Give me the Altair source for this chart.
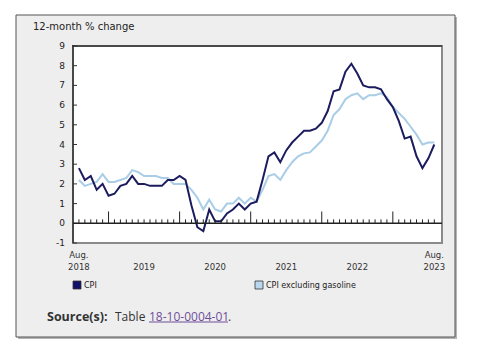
import altair as alt
import pandas as pd

# ---------------- data ----------------
months = pd.date_range("2018-08-01", "2023-08-01", freq="MS")

cpi = [2.8, 2.2, 2.4, 1.7, 2.0,
       1.4, 1.5, 1.9, 2.0, 2.4, 2.0, 2.0, 1.9, 1.9, 1.9, 2.2, 2.2,
       2.4, 2.2, 0.9, -0.2, -0.4, 0.7, 0.1, 0.1, 0.5, 0.7, 1.0, 0.7,
       1.0, 1.1, 2.2, 3.4, 3.6, 3.1, 3.7, 4.1, 4.4, 4.7, 4.7, 4.8,
       5.1, 5.7, 6.7, 6.8, 7.7, 8.1, 7.6, 7.0, 6.9, 6.9, 6.8, 6.3,
       5.9, 5.2, 4.3, 4.4, 3.4, 2.8, 3.3, 4.0]

cpi_ex_gas = [2.2, 1.9, 2.0, 2.1, 2.5,
              2.1, 2.1, 2.2, 2.3, 2.7, 2.6, 2.4, 2.4, 2.4, 2.3, 2.3, 2.0,
              2.0, 2.0, 1.7, 1.3, 0.7, 1.2, 0.7, 0.6, 1.0, 1.0, 1.3, 1.0,
              1.3, 1.1, 1.7, 2.4, 2.5, 2.2, 2.7, 3.1, 3.4, 3.55, 3.6, 3.9,
              4.2, 4.7, 5.5, 5.8, 6.3, 6.5, 6.6, 6.3, 6.5, 6.5, 6.6, 6.4,
              5.9, 5.6, 5.3, 4.9, 4.5, 4.0, 4.1, 4.1]

series_names = ["CPI", "CPI excluding gasoline"]
series_colors = ["#1b1b5e", "#a9cde6"]
swatch_colors = ["#10106a", "#b9d8f0"]
y_ticks = [-1, 0, 1, 2, 3, 4, 5, 6, 7, 8, 9]
year_labels = ["2019", "2020", "2021", "2022"]
title_text = "12-month % change"
source_label = "Source(s):"
source_table = "Table "
source_link = "18-10-0004-01"

# ---------------- tables ----------------
n = len(months)
idx = list(range(n))
df = pd.DataFrame({
    "i": idx * 2,
    "value": cpi + cpi_ex_gas,
    "series": [series_names[0]] * n + [series_names[1]] * n,
})

tick_df = pd.DataFrame({
    "i": idx,
    "y0": [0] * n,
    "top": [0.6 if m.month == 1 else 0.2 for m in months],
})

jan_idx = [i for i, m in enumerate(months) if m.month == 1]
year_df = pd.DataFrame({
    "i": [j + 6 for j in jan_idx[:len(year_labels)]],
    "label": year_labels,
})
year_df = pd.concat([year_df, pd.DataFrame({
    "i": [0, n - 1],
    "label": [str(months[0].year), str(months[-1].year)],
})])
aug_df = pd.DataFrame({"i": [0, n - 1], "label": ["Aug.", "Aug."]})
ytick_df = pd.DataFrame({"y": y_ticks, "label": [str(v) for v in y_ticks]})
one = pd.DataFrame({"k": [0]})

W, H = 369, 197
xscale = alt.Scale(domain=[-1, 61.3], nice=False, zero=False)
yscale = alt.Scale(domain=[-1, 9], nice=False, zero=False)
FONT = "DejaVu Sans"
SFONT = "Open Sans"

layers = []

# outer panel (shadow + panel)
layers.append(alt.Chart(one).mark_rect(fill="#b5b5b5").encode(
    x=alt.value(-55), x2=alt.value(384), y=alt.value(-29), y2=alt.value(293)))
layers.append(alt.Chart(one).mark_rect(fill="#eeeeee", stroke="#555555", strokeWidth=1).encode(
    x=alt.value(-57), x2=alt.value(382), y=alt.value(-31), y2=alt.value(291)))

# plot area
layers.append(alt.Chart(one).mark_rect(fill="white", stroke="#8a8a8a", strokeWidth=2).encode(
    x=alt.value(0), x2=alt.value(W), y=alt.value(0), y2=alt.value(H)))
layers.append(alt.Chart(one).mark_rule(color="#333333", strokeWidth=1.5).encode(
    x=alt.value(0), y=alt.value(-1), y2=alt.value(H)))
layers.append(alt.Chart(one).mark_rule(color="#333333", strokeWidth=1.5).encode(
    x=alt.value(-1), x2=alt.value(W), y=alt.value(0)))

# y ticks (inside) and labels
layers.append(alt.Chart(ytick_df).mark_rule(color="#333333", strokeWidth=1).encode(
    y=alt.Y("y:Q", scale=yscale, axis=None),
    x=alt.value(0), x2=alt.value(4)))
layers.append(alt.Chart(ytick_df).mark_text(font=FONT, fontSize=9, color="#222222", align="right",
                                            baseline="middle").encode(
    y=alt.Y("y:Q", scale=yscale, axis=None),
    x=alt.value(-8), text="label:N"))

# lines
for name, color in [(series_names[1], series_colors[1]), (series_names[0], series_colors[0])]:
    layers.append(alt.Chart(df).transform_filter(alt.datum.series == name).mark_line(
        color=color, strokeWidth=2, strokeJoin="miter").encode(
        x=alt.X("i:Q", scale=xscale, axis=None),
        y=alt.Y("value:Q", scale=yscale, axis=None)))

# zero line and month ticks
layers.append(alt.Chart(pd.DataFrame({"y": [0]})).mark_rule(color="#222222", strokeWidth=1.5).encode(
    y=alt.Y("y:Q", scale=yscale, axis=None)))
layers.append(alt.Chart(tick_df).mark_rule(color="#222222", strokeWidth=1).encode(
    x=alt.X("i:Q", scale=xscale, axis=None),
    y=alt.Y("y0:Q", scale=yscale, axis=None), y2="top:Q"))

# x labels
layers.append(alt.Chart(aug_df).mark_text(font=FONT, fontSize=8.5, color="#333333", baseline="middle").encode(
    x=alt.X("i:Q", scale=xscale, axis=None), y=alt.value(H + 12), text="label:N"))
layers.append(alt.Chart(year_df).mark_text(font=FONT, fontSize=8.5, color="#333333", baseline="middle").encode(
    x=alt.X("i:Q", scale=xscale, axis=None), y=alt.value(H + 24), text="label:N"))

# title
layers.append(alt.Chart(one).mark_text(font=FONT, fontSize=10, color="#222222", align="left",
                                       baseline="middle", text=title_text).encode(
    x=alt.value(-40), y=alt.value(-19)))

# legend
for k, (name, sw, lx) in enumerate(zip(series_names, swatch_colors, [0, 182])):
    layers.append(alt.Chart(one).mark_rect(fill=sw, stroke="#333333", strokeWidth=0.8).encode(
        x=alt.value(lx), x2=alt.value(lx + 8), y=alt.value(235), y2=alt.value(243)))
    layers.append(alt.Chart(one).mark_text(font=FONT, fontSize=8, color="#222222", align="left",
                                           baseline="middle", text=name).encode(
        x=alt.value(lx + 11), y=alt.value(239.5)))

# source line
layers.append(alt.Chart(one).mark_text(font=SFONT, fontSize=12.5, fontWeight="bold", color="#333333",
                                       align="left", baseline="middle", text=source_label).encode(
    x=alt.value(-26), y=alt.value(270.5)))
layers.append(alt.Chart(one).mark_text(font=SFONT, fontSize=12, color="#333333",
                                       align="left", baseline="middle", text=source_table).encode(
    x=alt.value(42), y=alt.value(270.5)))
layers.append(alt.Chart(one).mark_text(font=SFONT, fontSize=12, color="#6f4e9a",
                                       align="left", baseline="middle", text=source_link).encode(
    x=alt.value(76), y=alt.value(270.5)))
layers.append(alt.Chart(one).mark_rule(color="#6f4e9a", strokeWidth=1).encode(
    x=alt.value(76), x2=alt.value(155), y=alt.value(276)))
layers.append(alt.Chart(one).mark_text(font=SFONT, fontSize=12, color="#333333",
                                       align="left", baseline="middle", text=".").encode(
    x=alt.value(155), y=alt.value(270.5)))

chart = alt.layer(*layers).properties(
    width=W, height=H,
    padding={"left": 73, "top": 46, "right": 500 - 73 - W, "bottom": 356 - 46 - H},
    autosize=alt.AutoSizeParams(type="none"),
    background="white",
).configure_view(stroke=None)

chart.save("out.html", embed_options={"renderer": "svg", "actions": False})
